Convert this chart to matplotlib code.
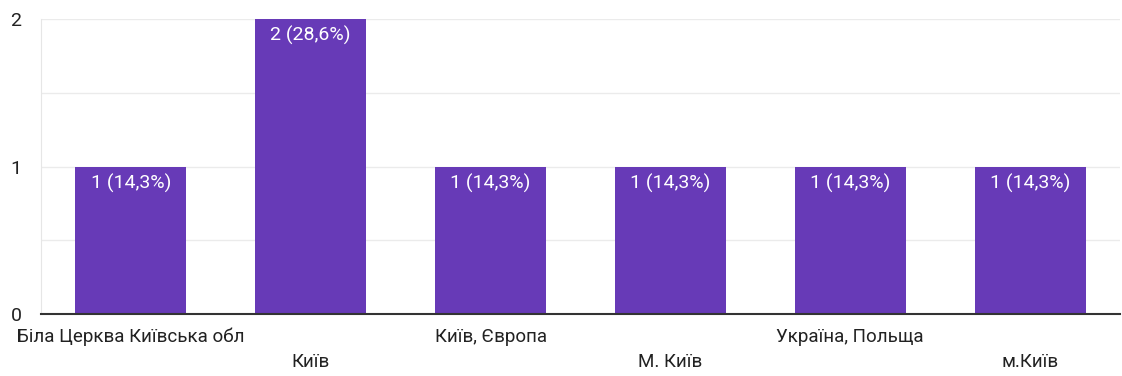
import matplotlib.pyplot as plt

plt.rcParams['font.family'] = ['Roboto', 'DejaVu Sans']

# Data
categories = ['Біла Церква Київська обл', 'Київ', 'Київ, Європа',
              'М. Київ', 'Україна, Польща', 'м.Київ']
counts = [1, 2, 1, 1, 1, 1]
total = 7
bar_color = '#673AB7'

fig = plt.figure(figsize=(11.22, 3.76), dpi=100)
ax = fig.add_axes([41 / 1122, 62 / 376, 1079 / 1122, 295 / 376])

x = range(len(categories))
bars = ax.bar(x, counts, width=0.617, color=bar_color, zorder=3)

# value labels inside the bars
for b, c in zip(bars, counts):
    pct = f'{c / total * 100:.1f}'.replace('.', ',')
    ax.annotate(f'{c} ({pct}%)', (b.get_x() + b.get_width() / 2, c),
                xytext=(0, -12), textcoords='offset points',
                ha='center', va='center', color='white', fontsize=14, zorder=4)

ax.set_xlim(-0.5, len(categories) - 0.5)
ax.set_ylim(0, 2)
ax.set_yticks([0, 1, 2])
ax.set_yticks([0.5, 1.5], minor=True)
ax.grid(axis='y', which='both', color='#ebebeb', linewidth=1, zorder=0)
ax.tick_params(axis='y', which='both', length=0, labelsize=14, labelcolor='#222222', pad=14)

# staggered category labels
ax.set_xticks(list(x))
ax.set_xticklabels([])
ax.tick_params(axis='x', length=0)
for i, name in enumerate(categories):
    dy = -16.6 if i % 2 == 0 else -34.6
    ax.annotate(name, (i, 0), xycoords=('data', 'axes fraction'),
                xytext=(0, dy), textcoords='offset points',
                ha='center', va='center', fontsize=13.5, color='#222222')

for s in ['top', 'right']:
    ax.spines[s].set_visible(False)
ax.spines['left'].set_color('#e6e6e6')
ax.spines['bottom'].set_color('#333333')
ax.spines['bottom'].set_linewidth(1.5)
ax.spines['bottom'].set_zorder(5)

fig.savefig('out.png', dpi=100)
